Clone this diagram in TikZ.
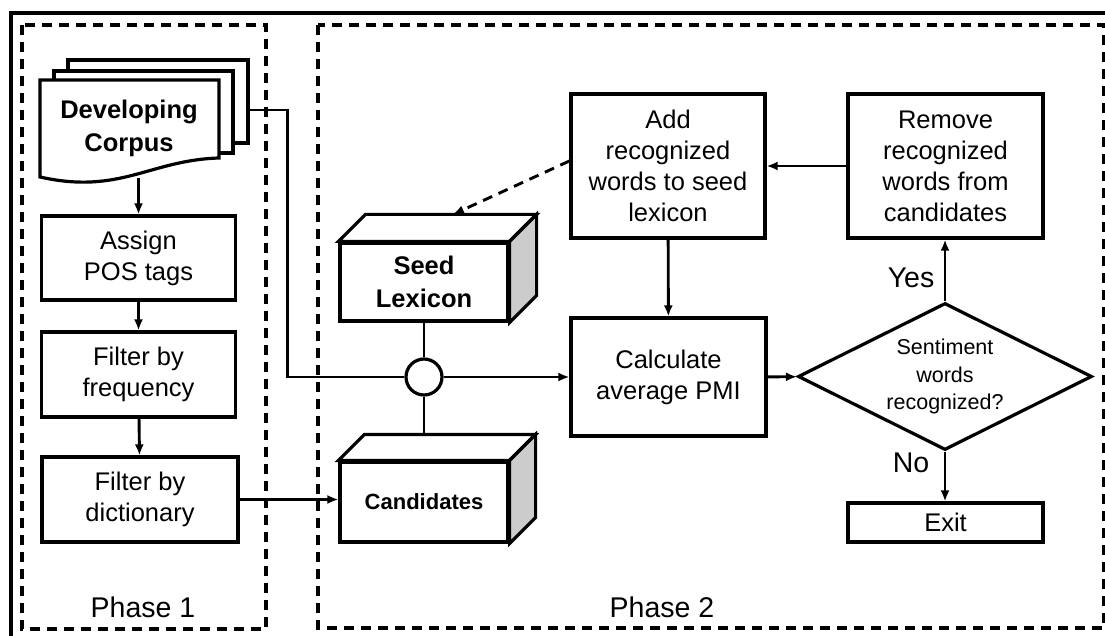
\documentclass[tikz,border=0pt]{standalone}
\usepackage{fontspec}
\setmainfont{Liberation Sans}
\usetikzlibrary{shapes.geometric, arrows.meta}
\tikzset{>={Latex[length=11pt,width=9pt]}}
\colorlet{sidegray}{black!20}

\begin{document}
\begin{tikzpicture}[x=1pt, y=-1pt, line width=2.9pt,
  box/.style={draw, fill=white, align=center, inner sep=0pt, line width=3.2pt, font=\fontsize{25.5}{31}\selectfont},
  sheet/.style={draw, fill=white, minimum width=180pt, minimum height=83pt, inner sep=0pt, line width=3.2pt},
  phase/.style={draw, dash pattern=on 10pt off 7pt, line width=3.2pt},
  lbl/.style={font=\fontsize{28.5}{34}\selectfont}]

\useasboundingbox (0,0) rectangle (1105,636);

% outer frame and the two phases
\draw[line width=3.6pt] (11,645) -- (11,13) -- (1115,13);
\draw[phase] (22,25) rectangle (266,629);
\draw[phase] (318,25) rectangle (1104,628);
\node[lbl] (p1) at (143,607) {Phase 1};
\node[lbl] (p2) at (662,607) {Phase 2};

% corpus (stack of documents)
\node[sheet] (sheet3) at (158,101.5) {};
\node[sheet, minimum width=179pt, minimum height=82pt] (sheet2) at (143.5,112) {};
\draw[fill=white, line width=3.2pt] (40,80) -- (219,80) -- (219,158)
  .. controls (150,160) and (120,195) .. (40,177) -- cycle;
\node[font=\bfseries\fontsize{25.5}{33}\selectfont, align=center] (corpus) at (129,128) {Developing\\Corpus};
\coordinate (corpus-foot) at (138.5,178);

% phase 1 steps
\node[box, minimum width=194pt, minimum height=84pt] (assign) at (138.5,258) {Assign\\POS tags};
\node[box, minimum width=194pt, minimum height=85pt] (freq) at (138.5,374.5) {Filter by\\frequency};
\node[box, minimum width=196pt, minimum height=85pt] (dict) at (140,499.5) {Filter by\\dictionary};

% seed lexicon and candidates
\node[box, font=\bfseries\fontsize{25.5}{33}\selectfont, minimum width=168pt, minimum height=78pt] (seed) at (424,282) {Seed\\Lexicon};
\node[box, font=\bfseries\fontsize{22}{28}\selectfont, minimum width=168pt, minimum height=80pt] (cand) at (424,502) {Candidates};
\foreach \n/\d in {seed/27, cand/26} {
  \draw[fill=white, line width=3.2pt] (\n.north west) -- ++(\d,-\d) -- ([shift={(\d,-\d)}]\n.north east) -- (\n.north east) -- cycle;
  \draw[fill=sidegray, line width=3.2pt] (\n.north east) -- ++(\d,-\d) -- ([shift={(\d,-\d)}]\n.south east) -- (\n.south east) -- cycle;
}
\node[draw, circle, fill=white, minimum size=36pt, inner sep=0pt, line width=3.2pt] (join) at (424,377) {};

% phase 2 steps
\node[box, minimum width=194pt, minimum height=144pt] (add) at (668,166) {Add\\recognized\\words to seed\\lexicon};
\node[box, minimum width=195pt, minimum height=144pt] (remove) at (945.5,166) {Remove\\recognized\\words from\\candidates};
\node[box, minimum width=195pt, minimum height=118pt] (calc) at (668.5,377) {Calculate\\average PMI};
\node[draw, diamond, aspect=2, fill=white, minimum width=294pt, minimum height=147pt, inner sep=0pt, align=center,
  line width=3.2pt, font=\fontsize{21.5}{27.5}\selectfont] (check) at (945,376.5) {Sentiment\\words\\recognized?};
\node[box, minimum width=195pt, minimum height=39pt] (exit) at (945.5,522.5) {Exit};
\node[lbl] (yes) at (911,278) {Yes};
\node[lbl] (no) at (911,463) {No};

% connectors
\draw[->] (corpus-foot) -- (assign);
\draw[->] (assign) -- (freq);
\draw[->] (freq) -- (dict);
\draw[->] (dict.east) -- (dict.east -| cand.west);
\draw ([yshift=-8.5pt]sheet3.east) -- ++(38,0) |- (join);
\draw (seed) -- (join);
\draw (join) -- ([yshift=26pt]cand.north);
\draw[->] (join) -- (calc);
\draw[->] (remove) -- (add);
\draw[->, dash pattern=on 10pt off 7pt] ([yshift=5pt]add.west) -- ([xshift=29pt,yshift=27pt]seed.north);
\draw[->] (add) -- (calc);
\draw[->] (calc) -- (check);
\draw[->] (check.north) -- (check.north |- remove.south);
\draw[->] (check.south) -- (check.south |- exit.north);

\end{tikzpicture}
\end{document}
